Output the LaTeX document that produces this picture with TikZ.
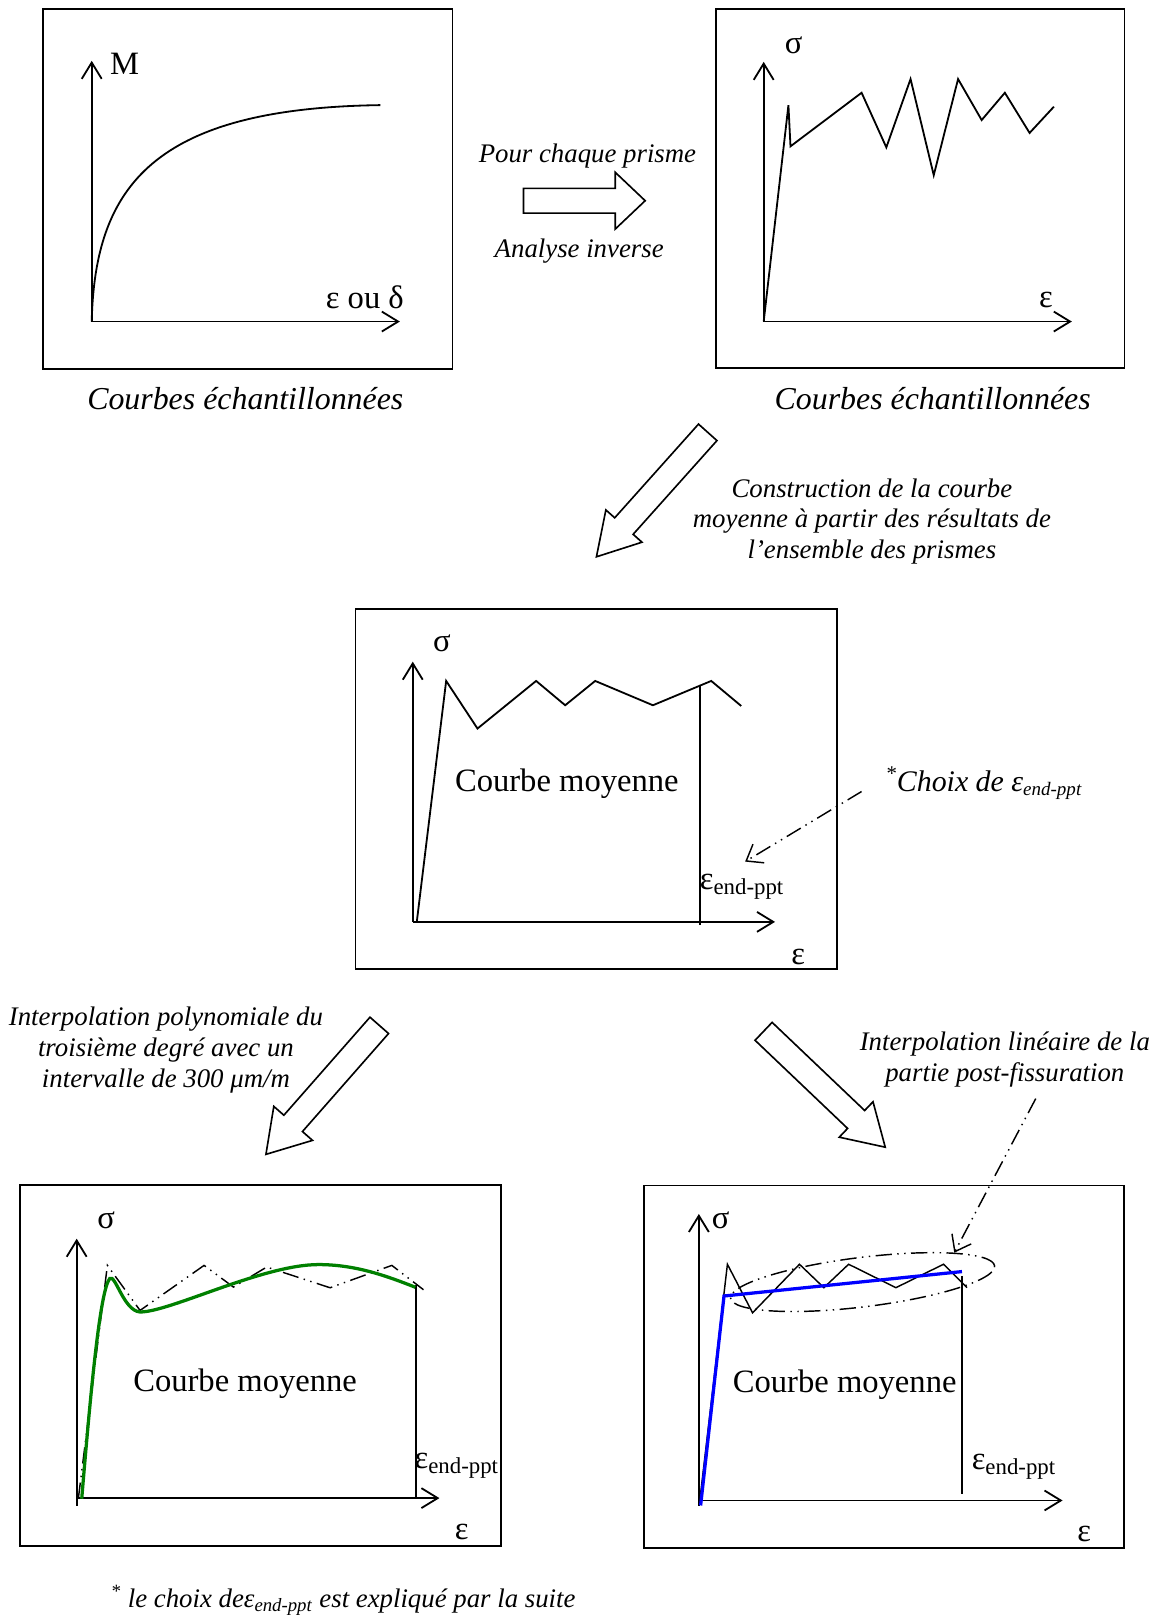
\documentclass[tikz,border=0pt]{standalone}
\usepackage{fontspec}
\setmainfont{Liberation Serif}
\usetikzlibrary{arrows.meta, shapes.geometric}

\definecolor{fitgreen}{RGB}{0,128,0}
\definecolor{fitblue}{RGB}{0,0,255}

\tikzset{
    panel/.style={draw, rectangle, line width=1pt, inner sep=0pt},
    axis/.style={line width=1pt, -{Straight Barb[length=9pt, width=11pt]}},
    curve/.style={line width=1pt, line join=miter},
    endline/.style={line width=0.8pt},
    dashdotdot/.style={dash pattern=on 9pt off 3pt on 0.8pt off 3pt on 0.8pt off 3pt},
    callout/.style={dashdotdot, line width=0.8pt, -{Straight Barb[length=8pt, width=12pt]}},
    fatarrow/.style={draw, fill=white, line width=0.9pt, line join=miter},
    bigtext/.style={font=\fontsize{18}{20}\selectfont},
    caption/.style={font=\fontsize{17.6}{20}\selectfont\itshape},
    note/.style={font=\fontsize{14.8}{17}\selectfont\itshape, align=center},
}

% epsilon with its end-ppt index
\newcommand{\epsend}{ε\textsubscript{end-ppt}}

% hollow block arrow: tail centre, angle, length, head length, half head width
\newcommand{\fatarrow}[5]{%
    \begin{scope}[shift={#1}, rotate=#2]
        \draw[fatarrow] (0,-12) -- ({#3-#4},-12) -- ({#3-#4},-#5) -- (#3,0)
            -- ({#3-#4},#5) -- ({#3-#4},12) -- (0,12) -- cycle;
    \end{scope}}

\begin{document}
\begin{tikzpicture}[x=0.2mm, y=-0.2mm]
    \useasboundingbox (0,0) rectangle (1123,1568);

    %Place M curve panel
    \node[panel, minimum width=79.4mm, minimum height=69.8mm] (samples-m) at (240.5,183.5) {};
    \coordinate (o1) at (89,312);
    \draw[axis] (o1) -- (89,59);
    \draw[axis] (o1) -- (388,312);
    \node[bigtext] (m-label) at (121,62) {M};
    \node[bigtext] (eps-delta) at (354,288) {ε ou δ};
    \draw[curve] (o1) .. controls (92,180) and (150,105) .. (369,102);
    \node[caption] (samples-m-cap) at (238,387) {Courbes échantillonnées};

    %Place arrow to sigma curves
    \fatarrow{(508,194.75)}{0}{118}{29}{27.5}
    \node[note] (per-prism) at (570,151) {Pour chaque prisme};
    \node[note] (inverse) at (562,244) {Analyse inverse};

    %Place sigma curve panel
    \node[panel, minimum width=79.2mm, minimum height=69.6mm] (samples-sigma) at (893,183) {};
    \coordinate (o2) at (741,312);
    \draw[axis] (o2) -- (741,60);
    \draw[axis] (o2) -- (1040,312);
    \node[bigtext] (sigma2) at (770,44) {σ};
    \node[bigtext] (eps2) at (1015,291) {ε};
    \draw[curve] (o2) -- (765,102) -- (767,142) -- (836,90) -- (860,143) -- (883.5,76.7)
        -- (906,170) -- (929.6,76.7) -- (952.5,116.5) -- (975,90) -- (999,129) -- (1022.6,103.5);
    \node[caption] (samples-sigma-cap) at (905,387) {Courbes échantillonnées};

    %Place arrow to mean curve
    \fatarrow{(686.7,419.5)}{228.2}{162}{40}{23.5}
    \node[note] (construction) at (846,506) {Construction de la courbe\\moyenne à partir des résultats de\\l’ensemble des prismes};

    %Place mean curve panel
    \node[panel, minimum width=93.4mm, minimum height=69.8mm] (mean-curve) at (578.5,765.5) {};
    \coordinate (o3) at (400.5,894.5);
    \draw[axis] (o3) -- (400.5,642);
    \draw[axis] (o3) -- (752,894.5);
    \node[bigtext] (sigma3) at (428.7,624.4) {σ};
    \node[bigtext] (eps3) at (774.6,928.5) {ε};
    \draw[curve] (404.4,894.5) -- (432.9,660.7) -- (463.3,706.9) -- (520.2,660.7) -- (548.4,684.3)
        -- (577.5,660.7) -- (633.5,684.3) -- (690.1,660.7) -- (719.2,685);
    \draw[endline] (679.4,665.2) -- (679.4,897.8);
    \node[bigtext] (mean-text) at (550,760) {Courbe moyenne};
    \node[bigtext] (end3) at (720,860.6) {\epsend};

    %Place choice note
    \node[note, font=\fontsize{16.5}{19}\selectfont\itshape, anchor=base west] (choix) at (853,768)
        {\textsuperscript{*}Choix de ε{\fontsize{10.5}{12}\selectfont\raisebox{-0.5ex}{end-ppt}}};
    \coordinate (choix-tip) at (723,836);
    \draw[callout] ([xshift=-3.4mm]choix.base west) -- (choix-tip);

    %Place arrows to fitted curves
    \fatarrow{(368,994.9)}{228.7}{166.6}{40}{25}
    \node[note] (poly-note) at (161,1019) {Interpolation polynomiale du\\troisième degré avec un\\intervalle de 300 μm/m};
    \fatarrow{(740.9,1000.7)}{316.4}{163}{39}{23.75}
    \node[note] (lin-note) at (975,1028) {Interpolation linéaire de la\\partie post-fissuration};

    %Place polynomial fit panel
    \node[panel, minimum width=93.3mm, minimum height=70mm] (poly-fit) at (252.7,1325) {};
    \coordinate (o4) at (74.4,1453.6);
    \draw[line width=1pt] (o4) -- (74.4,1461);
    \draw[axis] (o4) -- (74.4,1201.9);
    \draw[axis] (o4) -- (426.4,1453.6);
    \node[bigtext] (sigma4) at (102.9,1184.1) {σ};
    \node[bigtext] (eps4) at (448,1486.6) {ε};
    \draw[endline, dashdotdot] (76,1454.2) -- (104.2,1227.8) -- (135.9,1271.5) -- (198,1227.8)
        -- (226.5,1248.8) -- (258.8,1229.4) -- (320.3,1249.5) -- (380.2,1227.8) -- (410.9,1251.4);
    \draw[endline] (403.8,1247) -- (403.8,1453.6);
    \draw[fitgreen, line width=1.8pt] (79.3,1454.2) .. controls (88,1350) and (97,1252) .. (106.5,1240.5)
        .. controls (112,1236) and (120,1272) .. (136,1273)
        .. controls (165,1273) and (255,1227) .. (309,1227)
        .. controls (345,1227) and (375,1238) .. (403,1249);
    \node[bigtext] (poly-text) at (237.8,1342.6) {Courbe moyenne};
    \node[bigtext] (end4) at (443.2,1421.9) {\epsend};

    %Place linear fit panel
    \node[panel, minimum width=93.2mm, minimum height=70.3mm] (linear-fit) at (857.5,1326) {};
    \coordinate (o5) at (678.1,1455.9);
    \draw[line width=1pt] (o5) -- (678.1,1461);
    \draw[axis] (o5) -- (678.1,1177.9);
    \draw[axis] (o5) -- (1031,1455.9);
    \node[bigtext] (sigma5) at (699.3,1184.4) {σ};
    \node[bigtext] (eps5) at (1052,1488.4) {ε};
    \draw[endline] (679,1456) -- (705.8,1226.7) -- (730.2,1273.8) -- (775.7,1226.7) -- (799.4,1249.4)
        -- (823.4,1226.7) -- (869.3,1249.4) -- (915.5,1226.7) -- (938.3,1249.4);
    \draw[endline] (933.4,1238) -- (933.4,1449.4);
    \draw[fitblue, line width=1.8pt] (679.8,1460.7) -- (702.5,1257.5) -- (933.4,1233.8);
    \node[ellipse, draw, endline, dashdotdot, minimum width=51.6mm, minimum height=9.6mm, rotate=7] (post-fiss) at (837,1244) {};
    \node[bigtext] (linear-text) at (819.6,1343.7) {Courbe moyenne};
    \node[bigtext] (end5) at (983.8,1423.3) {\epsend};

    %Draw post-cracking callout
    \draw[callout] ([xshift=6mm, yshift=-1mm]lin-note.south) -- (post-fiss.north east);

    %Place footnote
    \node[note] (footnote) at (333,1553) {\textsuperscript{*} le choix deε\textsubscript{end-ppt} est expliqué par la suite};
\end{tikzpicture}
\end{document}
